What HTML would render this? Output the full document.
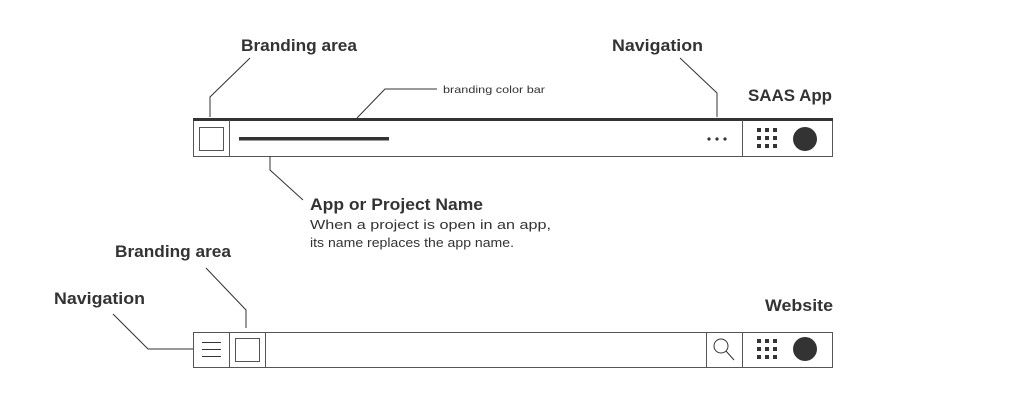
<!DOCTYPE html>
<html><head><style>
body{margin:0;background:#fff;width:1024px;height:400px;overflow:hidden}
svg text{font-family:"Liberation Sans",sans-serif;fill:#333}
.b{font-weight:bold;font-size:16.5px}
</style></head><body>
<svg width="1024" height="400" viewBox="0 0 1024 400">
<g fill="none" stroke="#333" stroke-width="1">
<rect x="193.5" y="120.5" width="639" height="36" stroke="#555"/>
<line x1="193" y1="119.5" x2="833" y2="119.5" stroke-width="3"/>
<line x1="229.5" y1="120" x2="229.5" y2="157" stroke="#555"/>
<line x1="742.5" y1="120" x2="742.5" y2="157" stroke="#555"/>
<rect x="199.5" y="127.5" width="24" height="23" stroke="#555"/>
<polyline points="210,117 210,97 250,58"/>
<polyline points="357,118 385,89 437,89"/>
<polyline points="680,58 717,93 717,117"/>
<polyline points="270,156 270,170 303,200"/>
<rect x="193.5" y="332.5" width="639" height="35" stroke="#555"/>
<line x1="229.5" y1="332" x2="229.5" y2="368" stroke="#555"/>
<line x1="265.5" y1="332" x2="265.5" y2="368" stroke="#555"/>
<line x1="706.5" y1="332" x2="706.5" y2="368" stroke="#555"/>
<line x1="742.5" y1="332" x2="742.5" y2="368" stroke="#555"/>
<rect x="235.5" y="338.5" width="24" height="23" stroke="#555"/>
<line x1="202" y1="342.5" x2="221" y2="342.5"/>
<line x1="202" y1="349.5" x2="221" y2="349.5"/>
<line x1="202" y1="356.5" x2="221" y2="356.5"/>
<circle cx="721" cy="346" r="7"/>
<line x1="726" y1="351" x2="734" y2="360"/>
<polyline points="206,268 246,310 246,328"/>
<polyline points="113,314 148,349 193,349"/>
</g>
<rect x="239" y="137" width="150" height="3.5" fill="#333"/>
<g fill="#333">
<circle cx="709" cy="139" r="1.6"/><circle cx="717" cy="139" r="1.6"/><circle cx="725" cy="139" r="1.6"/>
<rect x="757" y="128" width="4" height="4"/><rect x="765" y="128" width="4" height="4"/><rect x="773" y="128" width="4" height="4"/>
<rect x="757" y="136" width="4" height="4"/><rect x="765" y="136" width="4" height="4"/><rect x="773" y="136" width="4" height="4"/>
<rect x="757" y="144" width="4" height="4"/><rect x="765" y="144" width="4" height="4"/><rect x="773" y="144" width="4" height="4"/>
<circle cx="805" cy="139" r="12"/>
<rect x="757" y="339" width="4" height="4"/><rect x="765" y="339" width="4" height="4"/><rect x="773" y="339" width="4" height="4"/>
<rect x="757" y="347" width="4" height="4"/><rect x="765" y="347" width="4" height="4"/><rect x="773" y="347" width="4" height="4"/>
<rect x="757" y="355" width="4" height="4"/><rect x="765" y="355" width="4" height="4"/><rect x="773" y="355" width="4" height="4"/>
<circle cx="805" cy="349" r="12"/>
</g>
<text x="241" y="51" class="b" textLength="116" lengthAdjust="spacingAndGlyphs">Branding area</text>
<text x="443" y="93" font-size="10.5" textLength="102" lengthAdjust="spacingAndGlyphs">branding color bar</text>
<text x="612" y="51" class="b" textLength="91" lengthAdjust="spacingAndGlyphs">Navigation</text>
<text x="748" y="101" class="b" textLength="84" lengthAdjust="spacingAndGlyphs">SAAS App</text>
<text x="310" y="210" class="b" textLength="173" lengthAdjust="spacingAndGlyphs">App or Project Name</text>
<text x="310" y="229" font-size="13" textLength="241" lengthAdjust="spacingAndGlyphs">When a project is open in an app,</text>
<text x="310" y="247" font-size="13" textLength="204" lengthAdjust="spacingAndGlyphs">its name replaces the app name.</text>
<text x="115" y="257" class="b" textLength="116" lengthAdjust="spacingAndGlyphs">Branding area</text>
<text x="54" y="304" class="b" textLength="91" lengthAdjust="spacingAndGlyphs">Navigation</text>
<text x="765" y="311" class="b" textLength="68" lengthAdjust="spacingAndGlyphs">Website</text>
</svg>
</body></html>
